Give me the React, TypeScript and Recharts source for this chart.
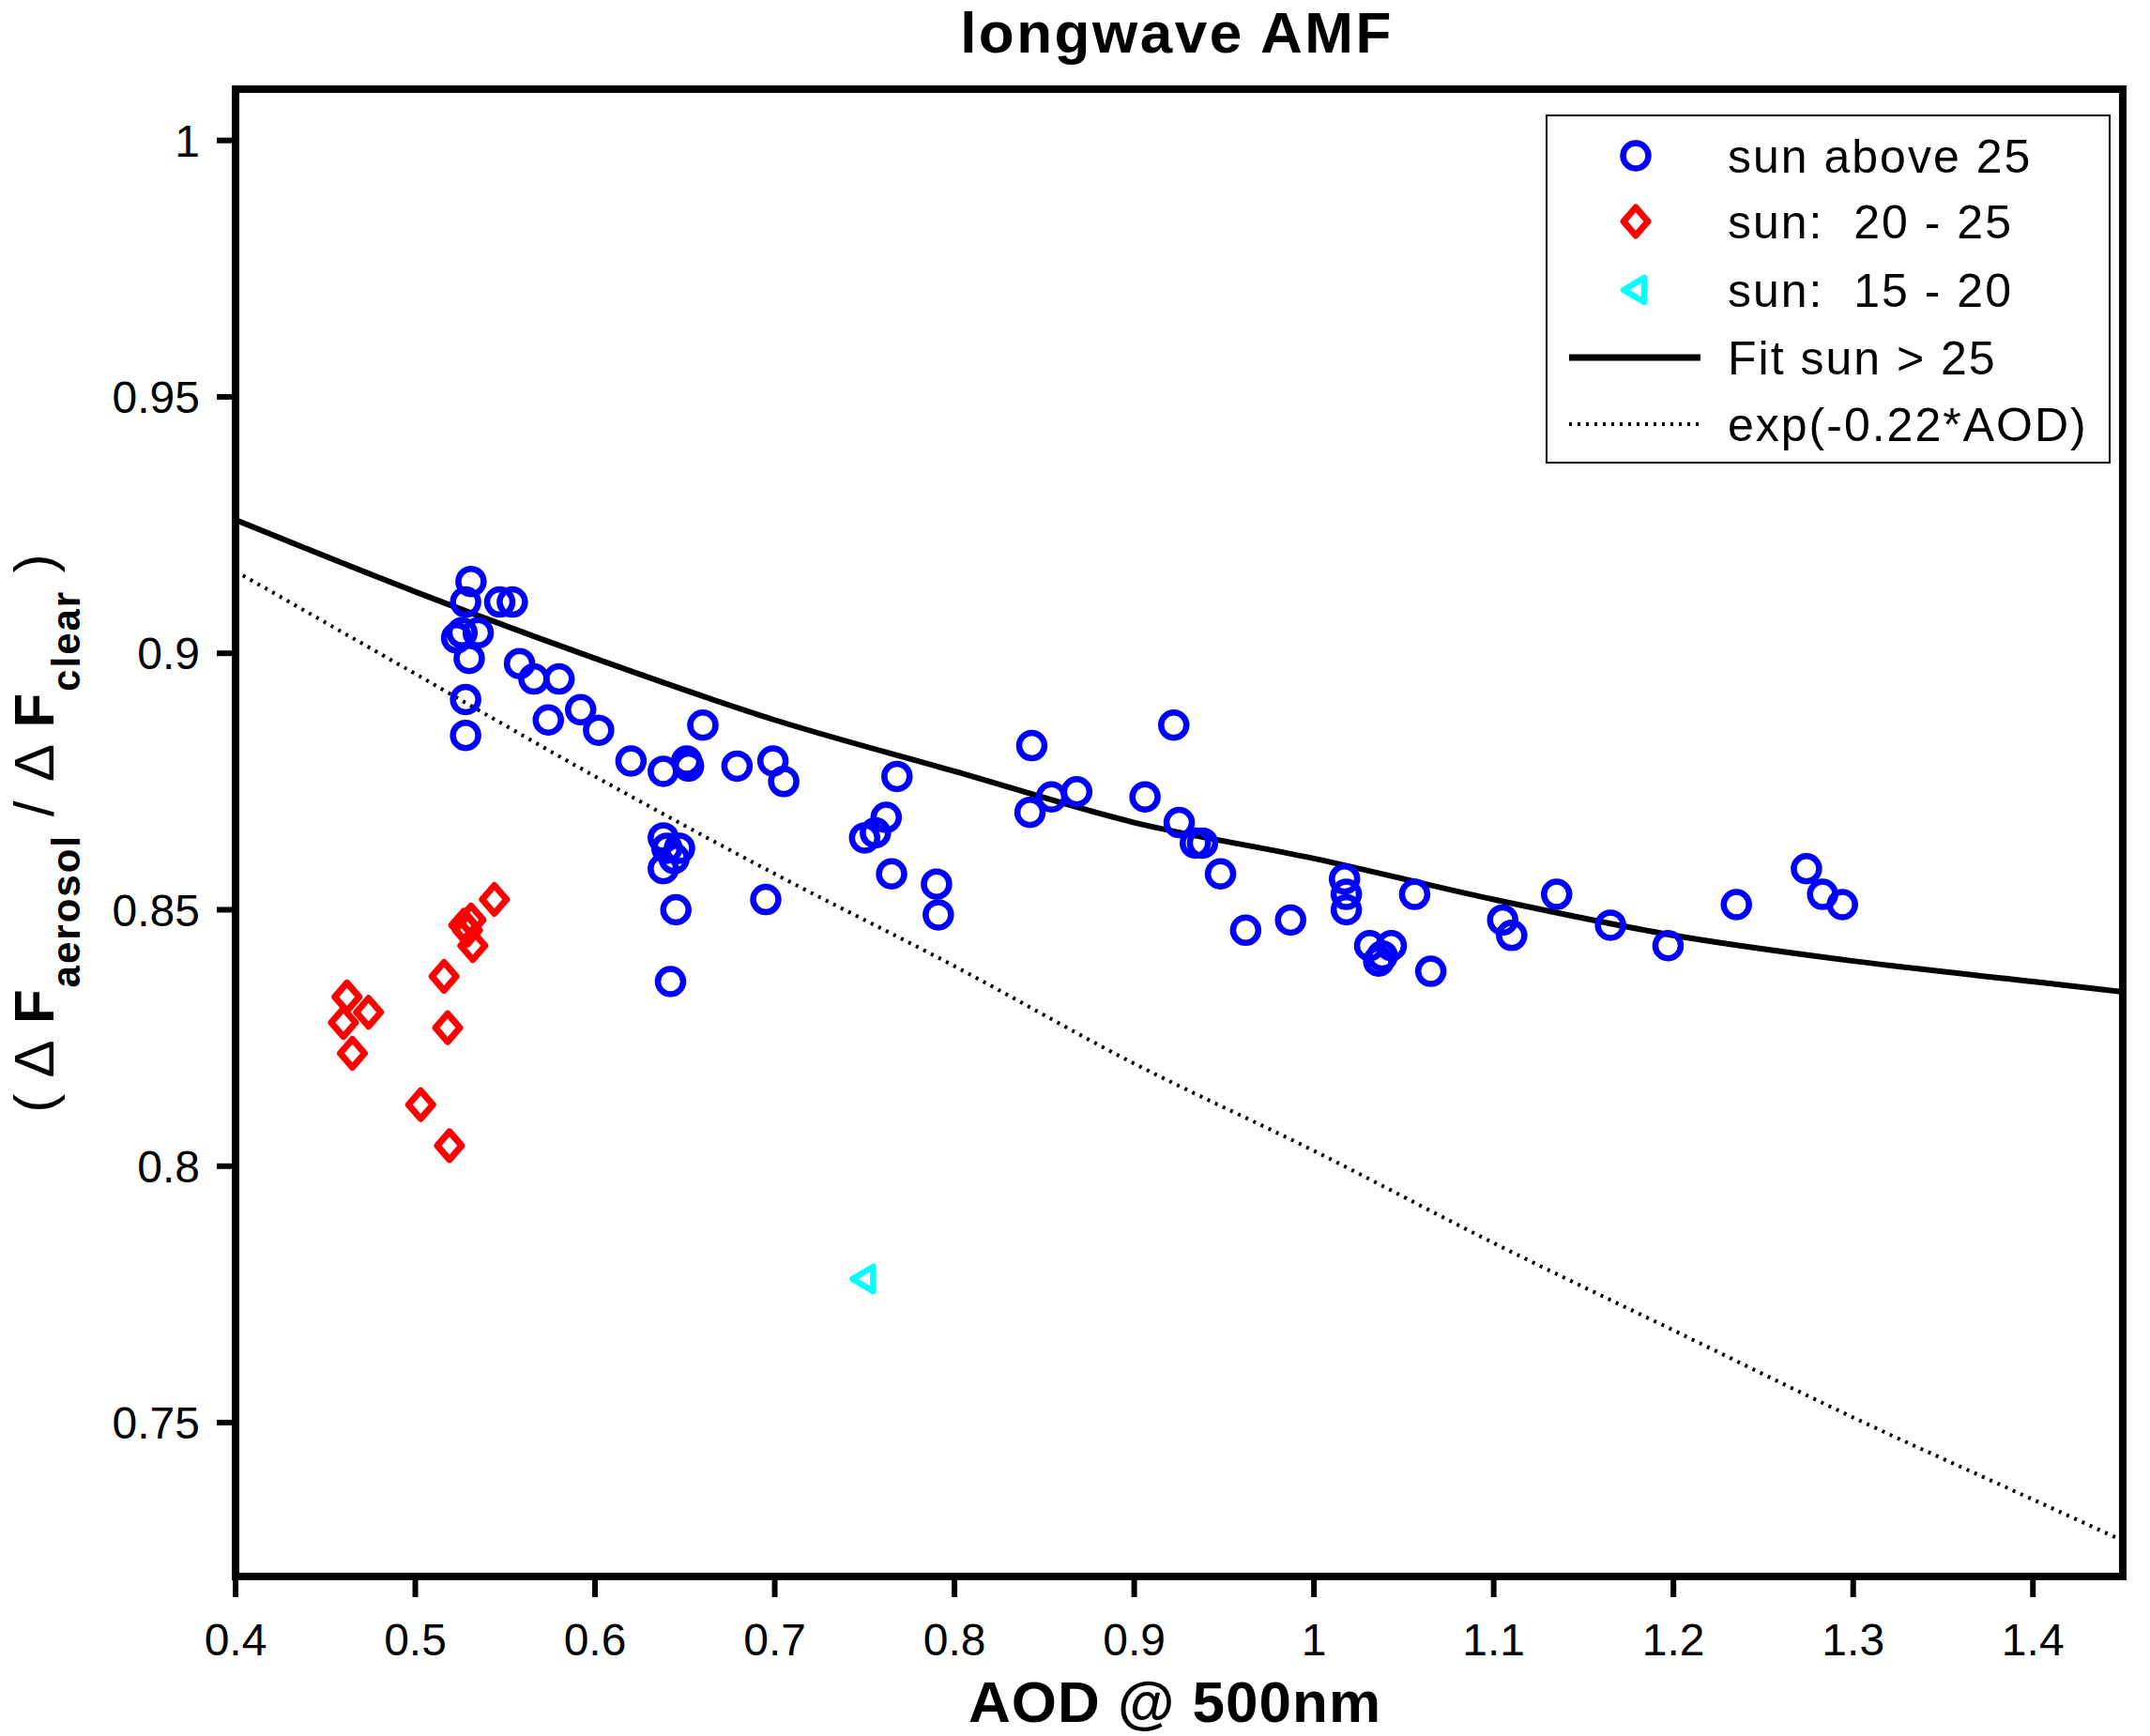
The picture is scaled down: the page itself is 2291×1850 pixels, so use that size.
import React from "react";
import {
  ComposedChart,
  Scatter,
  Line,
  XAxis,
  YAxis,
  Legend,
  Label,
} from "recharts";

const FONT = "'Liberation Sans', Arial, Helvetica, sans-serif";

const xTicks = [0.4, 0.5, 0.6, 0.7, 0.8, 0.9, 1, 1.1, 1.2, 1.3, 1.4];
const yTicks = [0.75, 0.8, 0.85, 0.9, 0.95, 1];

// sun elevation above 25 deg
const sunAbove25 = [
  { x: 0.531, y: 0.914 }, { x: 0.528, y: 0.91 }, { x: 0.547, y: 0.91 },
  { x: 0.554, y: 0.91 }, { x: 0.523, y: 0.903 }, { x: 0.526, y: 0.904 },
  { x: 0.535, y: 0.904 }, { x: 0.53, y: 0.899 }, { x: 0.528, y: 0.891 },
  { x: 0.528, y: 0.884 }, { x: 0.558, y: 0.898 }, { x: 0.566, y: 0.895 },
  { x: 0.58, y: 0.895 }, { x: 0.574, y: 0.887 }, { x: 0.592, y: 0.889 },
  { x: 0.602, y: 0.885 }, { x: 0.62, y: 0.879 }, { x: 0.638, y: 0.877 },
  { x: 0.651, y: 0.879 }, { x: 0.652, y: 0.878 }, { x: 0.66, y: 0.886 },
  { x: 0.679, y: 0.878 }, { x: 0.699, y: 0.879 }, { x: 0.705, y: 0.875 },
  { x: 0.638, y: 0.864 }, { x: 0.64, y: 0.862 }, { x: 0.647, y: 0.862 },
  { x: 0.638, y: 0.858 }, { x: 0.644, y: 0.86 }, { x: 0.645, y: 0.85 },
  { x: 0.642, y: 0.836 }, { x: 0.695, y: 0.852 }, { x: 0.75, y: 0.864 },
  { x: 0.756, y: 0.865 }, { x: 0.762, y: 0.868 }, { x: 0.768, y: 0.876 },
  { x: 0.765, y: 0.857 }, { x: 0.79, y: 0.855 }, { x: 0.791, y: 0.849 },
  { x: 0.843, y: 0.882 }, { x: 0.842, y: 0.869 }, { x: 0.854, y: 0.872 },
  { x: 0.868, y: 0.873 }, { x: 0.906, y: 0.872 }, { x: 0.922, y: 0.886 },
  { x: 0.925, y: 0.867 }, { x: 0.934, y: 0.863 }, { x: 0.938, y: 0.863 },
  { x: 0.948, y: 0.857 }, { x: 0.962, y: 0.846 }, { x: 0.987, y: 0.848 },
  { x: 1.017, y: 0.856 }, { x: 1.018, y: 0.853 }, { x: 1.018, y: 0.85 },
  { x: 1.031, y: 0.843 }, { x: 1.036, y: 0.84 }, { x: 1.043, y: 0.843 },
  { x: 1.038, y: 0.841 }, { x: 1.056, y: 0.853 }, { x: 1.065, y: 0.838 },
  { x: 1.105, y: 0.848 }, { x: 1.11, y: 0.845 }, { x: 1.135, y: 0.853 },
  { x: 1.165, y: 0.847 }, { x: 1.197, y: 0.843 }, { x: 1.235, y: 0.851 },
  { x: 1.274, y: 0.858 }, { x: 1.283, y: 0.853 }, { x: 1.294, y: 0.851 },
];

// sun 20 - 25
const sun20to25 = [
  { x: 0.462, y: 0.833 }, { x: 0.46, y: 0.828 }, { x: 0.474, y: 0.83 },
  { x: 0.465, y: 0.822 }, { x: 0.516, y: 0.837 }, { x: 0.518, y: 0.827 },
  { x: 0.503, y: 0.812 }, { x: 0.519, y: 0.804 }, { x: 0.527, y: 0.847 },
  { x: 0.531, y: 0.848 }, { x: 0.529, y: 0.846 }, { x: 0.532, y: 0.843 },
  { x: 0.544, y: 0.852 },
];

// sun 15 - 20
const sun15to20 = [{ x: 0.75, y: 0.778 }];

const fitSunAbove25 = [
  { x: 0.4, y: 0.926 }, { x: 0.5, y: 0.912 }, { x: 0.6, y: 0.899 },
  { x: 0.7, y: 0.887 }, { x: 0.8, y: 0.877 }, { x: 0.9, y: 0.867 },
  { x: 1.0, y: 0.86 }, { x: 1.1, y: 0.852 }, { x: 1.2, y: 0.845 },
  { x: 1.3, y: 0.84 }, { x: 1.4, y: 0.836 }, { x: 1.45, y: 0.834 },
];

const expCurve = [
  { x: 0.4, y: 0.916 }, { x: 0.5, y: 0.896 }, { x: 0.6, y: 0.876 },
  { x: 0.7, y: 0.857 }, { x: 0.8, y: 0.839 }, { x: 0.9, y: 0.82 },
  { x: 1.0, y: 0.803 }, { x: 1.1, y: 0.785 }, { x: 1.2, y: 0.768 },
  { x: 1.3, y: 0.751 }, { x: 1.4, y: 0.735 }, { x: 1.45, y: 0.727 },
];

function CircleMark({ cx, cy }: any) {
  return <circle cx={cx} cy={cy} r={13.5} fill="none" stroke="#0000ff" strokeWidth={6.5} />;
}

function DiamondMark({ cx, cy }: any) {
  const d = `M${cx},${cy - 15}L${cx + 13},${cy}L${cx},${cy + 15}L${cx - 13},${cy}Z`;
  return <path d={d} fill="none" stroke="#ff0000" strokeWidth={7} strokeLinejoin="round" />;
}

function TriangleMark({ cx, cy }: any) {
  const d = `M${cx - 13},${cy}L${cx + 9},${cy - 13}L${cx + 9},${cy + 13}Z`;
  return <path d={d} fill="none" stroke="#00ffff" strokeWidth={6.5} strokeLinejoin="round" />;
}

function LegendBox() {
  const rows = [44, 114, 187, 259, 330];
  const txt = { fontFamily: FONT, fontSize: 50, fill: "#000", letterSpacing: 2 };
  return (
    <svg width={604} height={374} style={{ display: "block" }}>
      <rect x={1} y={1} width={600} height={370} fill="#fff" stroke="#000" strokeWidth={2} />
      <CircleMark cx={96} cy={rows[0]} />
      <DiamondMark cx={96} cy={rows[1]} />
      <TriangleMark cx={96} cy={rows[2]} />
      <line x1={25} x2={165} y1={rows[3]} y2={rows[3]} stroke="#000" strokeWidth={7} />
      <line x1={25} x2={165} y1={rows[4]} y2={rows[4]} stroke="#000" strokeWidth={4} strokeDasharray="3 6" />
      <text x={194} y={rows[0]} dy="0.36em" {...txt}>sun above 25</text>
      <text x={194} y={rows[1]} dy="0.36em" {...txt} xmlSpace="preserve">sun:  20 - 25</text>
      <text x={194} y={rows[2]} dy="0.36em" {...txt} xmlSpace="preserve">sun:  15 - 20</text>
      <text x={194} y={rows[3]} dy="0.36em" {...txt}>Fit sun &gt; 25</text>
      <text x={194} y={rows[4]} dy="0.36em" {...txt}>exp(-0.22*AOD)</text>
    </svg>
  );
}

const axisLine = { stroke: "#000", strokeWidth: 8, strokeLinecap: "square" as const };
const tickLine = { stroke: "#000", strokeWidth: 6 };
const tickFont = { fill: "#000", fontSize: 48, fontFamily: FONT };

export default function App() {
  return (
    <div style={{ position: "absolute", left: 0, top: 0, background: "#fff" }}>
      <ComposedChart
        width={2291}
        height={1850}
        margin={{ top: 75, right: 9, bottom: 70, left: 151 }}
      >
        <XAxis
          type="number"
          dataKey="x"
          domain={[0.4, 1.45]}
          ticks={xTicks}
          interval={0}
          allowDataOverflow
          height={100}
          tickSize={22}
          tickMargin={28}
          axisLine={axisLine}
          tickLine={tickLine}
          tick={tickFont}
        >
          <Label
            content={() => (
              <text x={1252} y={1835} textAnchor="middle" fontFamily={FONT} fontSize={62} fontWeight="bold" fill="#000" letterSpacing={1}>
                AOD @ 500nm
              </text>
            )}
          />
        </XAxis>
        <XAxis
          xAxisId="top"
          orientation="top"
          type="number"
          dataKey="x"
          domain={[0.4, 1.45]}
          ticks={xTicks}
          interval={0}
          allowDataOverflow
          height={20}
          tickSize={18}
          axisLine={axisLine}
          tickLine={tickLine}
          tick={false}
        >
          <Label
            content={() => (
              <text x={1254} y={56} textAnchor="middle" fontFamily={FONT} fontSize={62} fontWeight="bold" fill="#000" letterSpacing={2.5}>
                longwave AMF
              </text>
            )}
          />
        </XAxis>
        <YAxis
          type="number"
          dataKey="y"
          domain={[0.72, 1.01]}
          ticks={yTicks}
          interval={0}
          allowDataOverflow
          width={100}
          tickSize={20}
          tickMargin={18}
          axisLine={axisLine}
          tickLine={tickLine}
          tick={tickFont}
        >
          <Label
            content={() => (
              <text
                x={-887}
                y={57}
                transform="rotate(-90)"
                textAnchor="middle"
                fontFamily={FONT}
                fontSize={60}
                fill="#000"
                letterSpacing={2}
                xmlSpace="preserve"
              >
                <tspan>( Δ </tspan>
                <tspan fontWeight="bold">F</tspan>
                <tspan fontWeight="bold" fontSize={42} dy={28}>aerosol</tspan>
                <tspan dy={-28}> / Δ </tspan>
                <tspan fontWeight="bold">F</tspan>
                <tspan fontWeight="bold" fontSize={42} dy={28}>clear</tspan>
                <tspan dy={-28}> )</tspan>
              </text>
            )}
          />
        </YAxis>
        <YAxis
          yAxisId="right"
          orientation="right"
          type="number"
          dataKey="y"
          domain={[0.72, 1.01]}
          ticks={yTicks}
          interval={0}
          allowDataOverflow
          width={20}
          tickSize={18}
          axisLine={axisLine}
          tickLine={tickLine}
          tick={false}
        />
        <Scatter name="sun above 25" data={sunAbove25} shape={CircleMark} isAnimationActive={false} />
        <Scatter name="sun: 20 - 25" data={sun20to25} shape={DiamondMark} isAnimationActive={false} />
        <Scatter name="sun: 15 - 20" data={sun15to20} shape={TriangleMark} isAnimationActive={false} />
        <Line
          name="Fit sun > 25"
          data={fitSunAbove25}
          dataKey="y"
          type="monotone"
          stroke="#000"
          strokeWidth={6}
          dot={false}
          activeDot={false}
          isAnimationActive={false}
        />
        <Line
          name="exp(-0.22*AOD)"
          data={expCurve}
          dataKey="y"
          type="monotone"
          stroke="#000"
          strokeWidth={4}
          strokeDasharray="3 6"
          dot={false}
          activeDot={false}
          isAnimationActive={false}
        />
        <Legend
          layout="horizontal"
          verticalAlign="middle"
          align="center"
          content={LegendBox}
          wrapperStyle={{ position: "absolute", left: 1647, top: 122, width: 604, height: 374 }}
        />
      </ComposedChart>
    </div>
  );
}
